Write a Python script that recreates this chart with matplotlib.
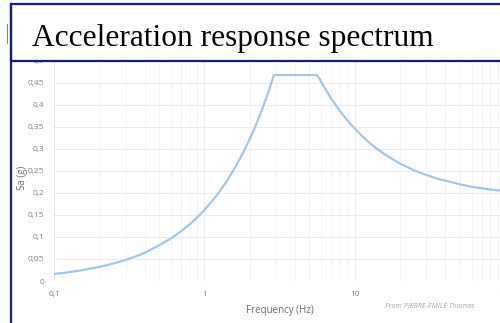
import matplotlib
matplotlib.use("Agg")
import matplotlib.pyplot as plt
from matplotlib.patches import Rectangle
from matplotlib.lines import Line2D
from matplotlib.ticker import FixedLocator, FixedFormatter, NullFormatter, LogLocator

# spectrum points (frequency in Hz, Sa in g)
freq = [0.1, 0.12, 0.15, 0.18, 0.2, 0.25, 0.3, 0.35, 0.4, 0.5, 0.6, 0.7, 0.8, 0.9,
        1.0, 1.2, 1.4, 1.6, 1.8, 2.0, 2.2, 2.4, 2.6, 2.8, 2.9,
        5.6, 5.8, 6.0, 6.5, 7.0, 7.5, 8.0, 9.0, 10.0, 11.0, 12.0, 14.0, 16.0, 18.0,
        20.0, 25.0, 30.0, 35.0, 40.0, 50.0, 60.0, 70.0, 80.0, 100.0]
sa = [0.016, 0.019, 0.024, 0.029, 0.032, 0.040, 0.048, 0.056, 0.064, 0.081, 0.097, 0.113, 0.129, 0.145,
      0.161, 0.193, 0.225, 0.258, 0.290, 0.322, 0.354, 0.386, 0.419, 0.451, 0.468,
      0.468, 0.461, 0.452, 0.432, 0.414, 0.399, 0.386, 0.364, 0.347, 0.332, 0.320, 0.301, 0.287, 0.276,
      0.267, 0.251, 0.241, 0.233, 0.228, 0.220, 0.214, 0.211, 0.208, 0.204]

yticks = [0, 0.05, 0.1, 0.15, 0.2, 0.25, 0.3, 0.35, 0.4, 0.45, 0.5]
ytick_labels = ["0", "0,05", "0,1", "0,15", "0,2", "0,25", "0,3", "0,35", "0,4", "0,45", "0,5"]
xticks = [0.1, 1, 10, 100]
xtick_labels = ["0,1", "1", "10", "100"]

navy = "#1a1a80"
grey_txt = "#7f7f7f"
W, H = 500, 323

fig = plt.figure(figsize=(W / 100, H / 100), dpi=100)
fig.patch.set_facecolor("white")

ax = fig.add_axes([54 / W, 1 - 281 / H, (505 - 54) / W, (281 - 61) / H])
ax.plot(freq, sa, color="#a5c6e6", lw=1.6, solid_joinstyle="round")
ax.set_xscale("log")
ax.set_xlim(0.1, 100)
ax.set_ylim(0, 0.5)

ax.xaxis.set_major_locator(FixedLocator(xticks))
ax.xaxis.set_major_formatter(FixedFormatter(xtick_labels))
ax.xaxis.set_minor_locator(LogLocator(base=10, subs=range(2, 10)))
ax.xaxis.set_minor_formatter(NullFormatter())
ax.set_yticks(yticks)
ax.set_yticklabels(ytick_labels)

ax.grid(True, which="minor", axis="x", color="#f3f3f3", lw=0.6)
ax.grid(True, which="major", axis="x", color="#ebebeb", lw=0.7)
ax.grid(True, which="major", axis="y", color="#ebebeb", lw=0.7)
ax.set_axisbelow(True)
for s in ax.spines.values():
    s.set_visible(False)
ax.axvline(0.1, color="#dedede", lw=0.8, zorder=0)
ax.tick_params(which="both", length=0, labelsize=6, labelcolor=grey_txt, pad=7)
for lab in ax.get_xticklabels() + ax.get_yticklabels():
    lab.set_family("Open Sans")

ax.set_xlabel("Frequency (Hz)", fontsize=7, color="#6f6f6f", family="Open Sans")
ax.set_ylabel("Sa (g)", fontsize=7, color="#6f6f6f", family="Open Sans")
ax.xaxis.label.set_va("center")
ax.yaxis.label.set_va("center")
ax.xaxis.set_label_coords((280 - 54) / (505 - 54), -(310 - 281) / (281 - 61))
ax.yaxis.set_label_coords(-(54 - 22) / (505 - 54), (281 - 178) / (281 - 61))

fig.text(430 / W, 1 - 307 / H, "From PIERRE-EMILE Thomas", fontsize=5.2, style="italic",
         color="#a6a6a6", family="Open Sans", ha="center", va="center")

# frame and title box
fig.add_artist(Line2D([11 / W, 11 / W], [0, 1 - 4 / H], color=navy, lw=1.6, zorder=6))
fig.add_artist(Line2D([7 / W, 7 / W], [1 - 43 / H, 1 - 24 / H], color=navy, lw=0.6, alpha=0.7, zorder=6))
fig.add_artist(Rectangle((11 / W, 1 - 61 / H), 520 / W, 57 / H, facecolor="white",
                         edgecolor=navy, lw=1.6, zorder=5, clip_on=False))
fig.text(32 / W, 1 - 46 / H, "Acceleration response spectrum", fontsize=22.6,
         family="Liberation Serif", color="black", ha="left", va="baseline", zorder=7)

fig.savefig("out.png", dpi=100)
